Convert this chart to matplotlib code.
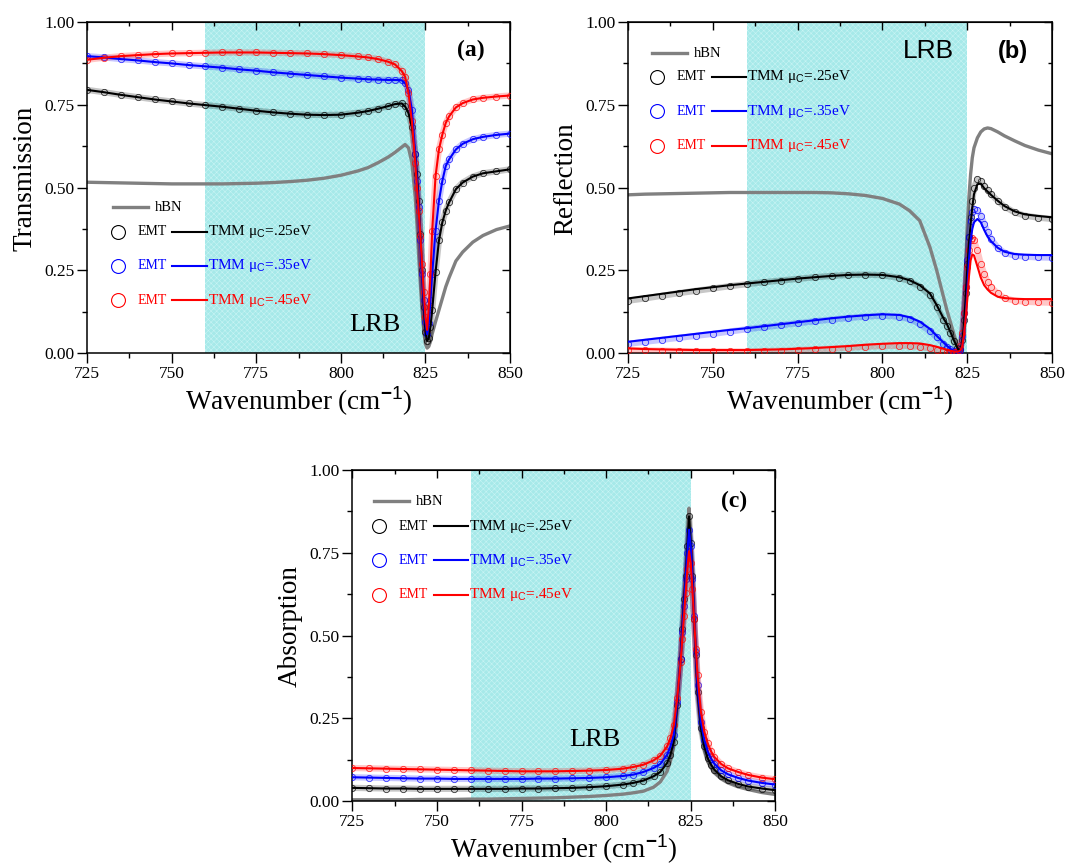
import matplotlib
matplotlib.use("Agg")
import matplotlib.pyplot as plt
from matplotlib.ticker import MultipleLocator

plt.rcParams['font.family'] = ['Liberation Serif', 'DejaVu Serif']
plt.rcParams['mathtext.fontset'] = 'custom'
plt.rcParams['mathtext.rm'] = 'Liberation Serif'
plt.rcParams['mathtext.sf'] = 'Liberation Sans'
plt.rcParams['mathtext.bf'] = 'Liberation Sans:bold'
plt.rcParams['hatch.linewidth'] = 0.4

# wavenumber grid (cm-1), shared by all panels
wn = [725, 730, 735, 740, 745, 750, 755, 760, 765, 770, 775, 780, 785, 790, 795,
      800, 805, 808, 811, 814, 816, 818, 819, 820, 821, 822, 822.5, 823, 823.5,
      824, 824.5, 825, 825.5, 826, 826.5, 827, 828, 829, 830, 831, 832, 834, 836,
      839, 842, 846, 850]

# (a) transmission
t_hbn = [0.516, 0.515, 0.514, 0.513, 0.512, 0.511, 0.511, 0.511, 0.511, 0.512, 0.513,
         0.515, 0.518, 0.522, 0.528, 0.537, 0.550, 0.560, 0.575, 0.592, 0.606, 0.622,
         0.630, 0.620, 0.575, 0.470, 0.390, 0.295, 0.210, 0.130, 0.070, 0.028, 0.015,
         0.020, 0.035, 0.058, 0.095, 0.130, 0.165, 0.200, 0.228, 0.278, 0.305, 0.335,
         0.355, 0.373, 0.384]
t_25 = [0.795, 0.788, 0.780, 0.773, 0.766, 0.760, 0.754, 0.749, 0.744, 0.738, 0.732,
        0.727, 0.723, 0.720, 0.719, 0.720, 0.726, 0.731, 0.738, 0.746, 0.752, 0.754,
        0.745, 0.725, 0.684, 0.600, 0.540, 0.460, 0.360, 0.250, 0.140, 0.065, 0.036,
        0.045, 0.080, 0.130, 0.245, 0.340, 0.395, 0.430, 0.455, 0.495, 0.515, 0.533,
        0.543, 0.549, 0.555]
t_35 = [0.897, 0.893, 0.888, 0.884, 0.879, 0.875, 0.870, 0.866, 0.862, 0.857, 0.853,
        0.848, 0.844, 0.840, 0.836, 0.832, 0.829, 0.827, 0.826, 0.825, 0.825, 0.824,
        0.815, 0.795, 0.735, 0.600, 0.520, 0.440, 0.340, 0.240, 0.160, 0.095, 0.057,
        0.090, 0.160, 0.240, 0.370, 0.460, 0.520, 0.565, 0.585, 0.615, 0.632, 0.646,
        0.653, 0.659, 0.663]
t_45 = [0.886, 0.892, 0.897, 0.900, 0.903, 0.905, 0.906, 0.907, 0.908, 0.908, 0.908,
        0.907, 0.906, 0.905, 0.903, 0.900, 0.896, 0.893, 0.888, 0.880, 0.872, 0.852,
        0.835, 0.785, 0.700, 0.575, 0.500, 0.430, 0.355, 0.270, 0.185, 0.110, 0.070,
        0.140, 0.240, 0.370, 0.535, 0.615, 0.660, 0.695, 0.715, 0.742, 0.755, 0.766,
        0.771, 0.775, 0.778]

# (b) reflection
r_hbn = [0.478, 0.480, 0.481, 0.482, 0.483, 0.484, 0.485, 0.485, 0.485, 0.485, 0.485,
         0.485, 0.484, 0.481, 0.476, 0.467, 0.450, 0.430, 0.400, 0.320, 0.250, 0.170,
         0.130, 0.095, 0.060, 0.025, 0.012, 0.008, 0.040, 0.130, 0.250, 0.380, 0.470,
         0.540, 0.590, 0.620, 0.650, 0.668, 0.677, 0.680, 0.678, 0.668, 0.656, 0.641,
         0.627, 0.613, 0.602]
r_25 = [0.165, 0.172, 0.179, 0.186, 0.193, 0.199, 0.205, 0.210, 0.215, 0.220, 0.225,
        0.229, 0.233, 0.236, 0.237, 0.236, 0.229, 0.220, 0.205, 0.180, 0.145, 0.105,
        0.088, 0.065, 0.040, 0.018, 0.008, 0.010, 0.030, 0.080, 0.160, 0.250, 0.330,
        0.390, 0.440, 0.480, 0.510, 0.512, 0.498, 0.488, 0.478, 0.460, 0.444, 0.428,
        0.419, 0.414, 0.410]
r_35 = [0.034, 0.040, 0.046, 0.052, 0.058, 0.064, 0.070, 0.075, 0.081, 0.087, 0.093,
        0.099, 0.105, 0.110, 0.114, 0.117, 0.115, 0.108, 0.095, 0.073, 0.052, 0.032,
        0.022, 0.013, 0.007, 0.004, 0.003, 0.004, 0.020, 0.050, 0.100, 0.180, 0.280,
        0.340, 0.375, 0.395, 0.405, 0.395, 0.372, 0.352, 0.338, 0.318, 0.306, 0.299,
        0.297, 0.296, 0.296]
r_45 = [0.014, 0.012, 0.011, 0.010, 0.009, 0.009, 0.009, 0.009, 0.010, 0.011, 0.013,
        0.015, 0.018, 0.021, 0.025, 0.028, 0.030, 0.030, 0.029, 0.024, 0.019, 0.013,
        0.010, 0.007, 0.005, 0.004, 0.005, 0.008, 0.020, 0.050, 0.100, 0.160, 0.230,
        0.280, 0.298, 0.295, 0.262, 0.228, 0.205, 0.192, 0.182, 0.170, 0.166, 0.164,
        0.163, 0.163, 0.163]
r_emt_25 = [0.158, 0.165, 0.173, 0.181, 0.188, 0.195, 0.202, 0.208, 0.214, 0.219, 0.224,
            0.229, 0.233, 0.236, 0.237, 0.235, 0.227, 0.217, 0.201, 0.175, 0.140, 0.100,
            0.083, 0.060, 0.036, 0.015, 0.007, 0.012, 0.040, 0.100, 0.180, 0.270, 0.350,
            0.410, 0.460, 0.500, 0.525, 0.520, 0.505, 0.492, 0.480, 0.460, 0.442, 0.425,
            0.415, 0.409, 0.405]
r_emt_35 = [0.028, 0.034, 0.040, 0.046, 0.052, 0.058, 0.065, 0.072, 0.078, 0.084, 0.090,
            0.096, 0.101, 0.106, 0.110, 0.113, 0.110, 0.102, 0.088, 0.066, 0.047, 0.028,
            0.019, 0.011, 0.006, 0.004, 0.005, 0.010, 0.050, 0.120, 0.200, 0.280, 0.350,
            0.400, 0.425, 0.435, 0.432, 0.415, 0.390, 0.365, 0.345, 0.318, 0.303, 0.294,
            0.291, 0.289, 0.288]
r_emt_45 = [0.010, 0.008, 0.007, 0.006, 0.005, 0.005, 0.005, 0.005, 0.006, 0.007, 0.009,
            0.011, 0.013, 0.016, 0.019, 0.021, 0.022, 0.021, 0.019, 0.014, 0.010, 0.006,
            0.004, 0.003, 0.003, 0.004, 0.008, 0.020, 0.060, 0.120, 0.200, 0.260, 0.310,
            0.340, 0.347, 0.340, 0.310, 0.270, 0.240, 0.215, 0.200, 0.180, 0.166, 0.158,
            0.155, 0.153, 0.152]

# (c) absorption
a_hbn = [0.004, 0.004, 0.004, 0.004, 0.005, 0.005, 0.005, 0.006, 0.006, 0.007, 0.008,
         0.009, 0.010, 0.012, 0.014, 0.017, 0.021, 0.025, 0.030, 0.042, 0.058, 0.090,
         0.120, 0.170, 0.290, 0.440, 0.530, 0.620, 0.690, 0.790, 0.885, 0.800, 0.700,
         0.560, 0.440, 0.330, 0.210, 0.155, 0.120, 0.100, 0.085, 0.067, 0.055, 0.043,
         0.035, 0.026, 0.020]
a_25 = [0.040, 0.039, 0.038, 0.038, 0.037, 0.037, 0.037, 0.037, 0.037, 0.037, 0.038,
        0.038, 0.039, 0.040, 0.042, 0.045, 0.050, 0.055, 0.062, 0.075, 0.088, 0.115,
        0.140, 0.180, 0.290, 0.430, 0.520, 0.610, 0.680, 0.770, 0.860, 0.780, 0.680,
        0.550, 0.440, 0.330, 0.220, 0.165, 0.130, 0.110, 0.095, 0.075, 0.063, 0.052,
        0.044, 0.038, 0.033]
a_35 = [0.072, 0.071, 0.070, 0.069, 0.068, 0.068, 0.067, 0.067, 0.067, 0.067, 0.067,
        0.068, 0.068, 0.069, 0.070, 0.072, 0.076, 0.080, 0.088, 0.100, 0.112, 0.140,
        0.165, 0.200, 0.300, 0.430, 0.510, 0.590, 0.670, 0.750, 0.820, 0.770, 0.670,
        0.560, 0.450, 0.350, 0.240, 0.185, 0.150, 0.128, 0.113, 0.093, 0.081, 0.070,
        0.062, 0.055, 0.050]
a_45 = [0.100, 0.099, 0.098, 0.097, 0.096, 0.095, 0.094, 0.093, 0.092, 0.091, 0.090,
        0.090, 0.090, 0.091, 0.092, 0.094, 0.098, 0.103, 0.110, 0.123, 0.137, 0.165,
        0.190, 0.230, 0.310, 0.420, 0.490, 0.560, 0.630, 0.700, 0.755, 0.720, 0.640,
        0.550, 0.460, 0.380, 0.270, 0.210, 0.175, 0.150, 0.133, 0.112, 0.099, 0.088,
        0.079, 0.071, 0.066]

mu_labels = ['.25eV', '.35eV', '.45eV']
colors = ['black', 'blue', 'red']
lrb_band = (760, 825)


def draw_panel(rect, ylabel, hbn, tmm, emt, tag, tag_font, lrb_xy, lrb_font, leg):
    ax = fig.add_axes(rect)
    ax.axvspan(*lrb_band, facecolor='#a6e9e9', edgecolor='#c8f4f4', hatch='xxxxxx',
               lw=0, zorder=0)
    ax.plot(wn, hbn, color='#808080', lw=2.4, zorder=2)
    for ys, ye, c in zip(tmm, emt, colors):
        # EMT: dense open circles -> faint band + circles
        ax.plot(wn, ye, color=c, lw=4.5, alpha=0.22, solid_capstyle='butt', zorder=3)
        ax.plot(wn, ye, ls='none', marker='o', ms=4.5, mfc='none', mec=c, mew=0.6,
                alpha=0.8, zorder=3)
        ax.plot(wn, ys, color=c, lw=1.5, zorder=4)

    ax.set_xlim(725, 850)
    ax.set_ylim(0, 1)
    ax.xaxis.set_major_locator(MultipleLocator(25))
    ax.xaxis.set_minor_locator(MultipleLocator(12.5))
    ax.yaxis.set_major_locator(MultipleLocator(0.25))
    ax.yaxis.set_minor_locator(MultipleLocator(0.125))
    ax.yaxis.set_major_formatter(lambda v, p: f'{v:.2f}')
    ax.tick_params(which='both', direction='out', width=1, labelsize=12.5, pad=2)
    ax.tick_params(which='major', length=7)
    ax.tick_params(which='minor', length=3.5)
    for s in ax.spines.values():
        s.set_linewidth(1.1)

    top = ax.secondary_xaxis('top')
    top.xaxis.set_major_locator(MultipleLocator(25))
    top.xaxis.set_minor_locator(MultipleLocator(12.5))
    top.tick_params(which='both', direction='in', labeltop=False, width=1)
    top.tick_params(which='major', length=6)
    top.tick_params(which='minor', length=3)
    right = ax.secondary_yaxis('right')
    right.yaxis.set_major_locator(MultipleLocator(0.25))
    right.yaxis.set_minor_locator(MultipleLocator(0.125))
    right.tick_params(which='both', direction='in', labelright=False, width=1)
    right.tick_params(which='major', length=6)
    right.tick_params(which='minor', length=3)

    ax.set_xlabel('Wavenumber (cm$^{\\mathbf{-}\\mathsf{1}}$)', fontsize=19.5, labelpad=2)
    ax.set_ylabel(ylabel, fontsize=19.5, labelpad=5, y=0.528)

    ax.text(tag[0], tag[1], tag[2], fontfamily=tag_font, fontweight='bold', fontsize=17,
            transform=ax.transAxes, ha='center', va='center')
    ax.text(lrb_xy[0], lrb_xy[1], 'LRB', fontfamily=lrb_font, fontsize=19,
            transform=ax.transAxes, ha='center', va='center')

    # legend drawn by hand (Origin style: symbol EMT line TMM)
    x0, y_hbn, rows = leg
    tr = ax.transAxes
    ax.plot([x0 - 0.012, x0 + 0.07], [y_hbn, y_hbn], color='#808080', lw=2.4, transform=tr)
    ax.text(x0 + 0.088, y_hbn, 'hBN', fontsize=10.5, transform=tr, va='center')
    for yr, c, m in zip(rows, colors, mu_labels):
        ax.plot([x0], [yr], ls='none', marker='o', ms=10, mfc='none', mec=c, mew=0.8,
                transform=tr)
        ax.text(x0 + 0.047, yr, 'EMT', color=c, fontsize=10, transform=tr, va='center')
        ax.plot([x0 + 0.129, x0 + 0.21], [yr, yr], color=c, lw=1.5, transform=tr)
        ax.text(x0 + 0.213, yr, 'TMM \u03bc$_{\\mathsf{C}}$' + m.replace('.', '=.', 1),
                color=c, fontsize=11, transform=tr, va='center')
    return ax


fig = plt.figure(figsize=(10.69, 8.67), dpi=100)

draw_panel([0.0814, 0.5928, 0.3957, 0.3818], 'Transmission', t_hbn,
           [t_25, t_35, t_45], [t_25, t_35, t_45],
           (0.908, 0.915, '(a)'), 'Liberation Serif', (0.681, 0.085), 'Liberation Serif',
           (0.073, 0.440, [0.366, 0.263, 0.160]))
draw_panel([0.5875, 0.5928, 0.3966, 0.3818], 'Reflection', r_hbn,
           [r_25, r_35, r_45], [r_emt_25, r_emt_35, r_emt_45],
           (0.908, 0.910, '(b)'), 'Liberation Sans', (0.708, 0.912), 'Liberation Sans',
           (0.068, 0.905, [0.835, 0.731, 0.626]))
draw_panel([0.3296, 0.0760, 0.3957, 0.3818], 'Absorption', a_hbn,
           [a_25, a_35, a_45], [a_25, a_35, a_45],
           (0.902, 0.906, '(c)'), 'Liberation Serif', (0.574, 0.184), 'Liberation Serif',
           (0.063, 0.906, [0.831, 0.727, 0.623]))

fig.savefig('out.png', dpi=100)
